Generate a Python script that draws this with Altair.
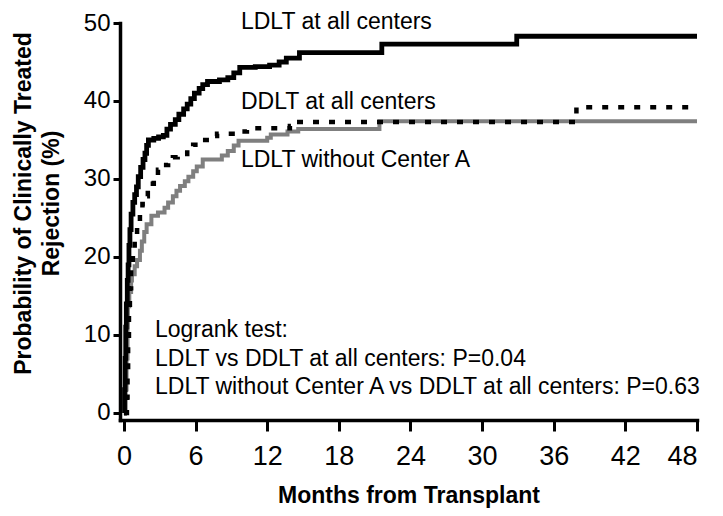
import altair as alt
import pandas as pd

# ---- data (months, cumulative % with clinically treated rejection)
ldlt_all_months = [0, 0.05, 0.1, 0.15, 0.2, 0.28, 0.35, 0.42, 0.5, 0.6, 0.75, 0.9, 1.05, 1.2, 1.4,
                   1.6, 1.76, 1.9, 2.05, 2.5, 2.9, 3.3, 3.6, 3.9, 4.3, 4.6, 5.0, 5.3, 5.6, 5.9,
                   6.3, 6.6, 7.0, 8.0, 8.7, 9.2, 9.7, 11.0, 12.2, 13.0, 13.6, 14.7, 21.6, 32.9, 48]
ldlt_all_pct = [0, 3, 7, 11, 14, 17, 19, 21.5, 23.5, 25.5, 27, 28, 29, 30.3, 31.5,
                32.5, 33.3, 34.3, 35, 35.2, 35.4, 35.6, 36.4, 37, 37.6, 38.3, 39, 39.6, 40.3, 41,
                41.6, 42.1, 42.5, 42.7, 43.0, 43.6, 44.3, 44.4, 44.6, 45.0, 45.5, 46.2, 47.3, 48.3, 48.3]

ddlt_all_months = [0, 0.25, 0.3, 0.35, 0.42, 0.5, 0.6, 0.75, 0.9, 1.1, 1.34, 1.55, 1.76, 2.0, 2.2,
                   2.5, 2.85, 3.3, 3.7, 4.1, 4.5, 5.3, 5.8, 6.4, 7.2, 7.8, 9.1, 10.3, 13.9, 14.0,
                   37.9, 48]
ddlt_all_pct = [0, 2, 5, 9.5, 13, 16, 18.5, 21, 22.8, 24.3, 25.7, 26.8, 27.8, 28.7, 29.4,
                30.3, 31.2, 31.8, 32.4, 32.8, 33.2, 33.8, 34.4, 35.0, 35.5, 35.8, 36.1, 36.5, 36.8, 37.3,
                39.2, 39.2]

ldlt_noA_months = [0, 0.15, 0.22, 0.3, 0.33, 0.45, 0.6, 0.67, 0.9, 1.1, 1.34, 1.5, 1.7, 1.9, 2.3,
                   2.85, 3.4, 3.7, 4.1, 4.4, 4.7, 5.1, 5.4, 5.8, 6.1, 6.6, 8.2, 8.7, 9.2, 9.6,
                   12.0, 12.3, 13.7, 14.6, 21.4, 48]
ldlt_noA_pct = [0, 3, 7, 11, 13.7, 15.5, 17, 17.8, 18.8, 19.6, 20.8, 22, 23.2, 24.2, 25.3,
                25.7, 26.3, 27, 27.8, 28.5, 29.1, 29.7, 30.3, 31, 31.6, 32.5, 33.0, 33.6, 34.3, 34.9,
                35.3, 35.7, 36.1, 36.4, 37.4, 37.4]

series_names = ["LDLT at all centers", "DDLT at all centers", "LDLT without Center A"]
x_ticks = [0, 6, 12, 18, 24, 30, 36, 42, 48]
y_ticks = [0, 10, 20, 30, 40, 50]
logrank_lines = ["Logrank test:",
                 "LDLT vs DDLT at all centers: P=0.04",
                 "LDLT without Center A vs DDLT at all centers: P=0.63"]

rows = []
for name, ms, ps in zip(series_names,
                        [ldlt_all_months, ddlt_all_months, ldlt_noA_months],
                        [ldlt_all_pct, ddlt_all_pct, ldlt_noA_pct]):
    for m, p in zip(ms, ps):
        rows.append({"series": name, "month": m, "pct": p})
df = pd.DataFrame(rows)

FONT = "Liberation Sans"
x_scale = alt.Scale(domain=[-0.33, 48], nice=False, zero=False)
y_scale = alt.Scale(domain=[-0.9, 50], nice=False, zero=False)

x_axis = alt.Axis(values=x_ticks, title="Months from Transplant", grid=False,
                  labelFont=FONT, labelFontSize=27, labelColor="black", labelPadding=12,
                  tickSize=11, tickWidth=3, tickColor="black",
                  domainWidth=3.5, domainColor="black", domainCap="square",
                  titleFont=FONT, titleFontSize=23, titleFontWeight="bold", titleColor="black",
                  titleBaseline="alphabetic", titleY=82)
y_axis = alt.Axis(values=y_ticks, title=["Probability of Clinically Treated", "Rejection (%)"],
                  grid=False, labelFont=FONT, labelFontSize=24, labelColor="black", labelPadding=3,
                  tickSize=7, tickWidth=3, tickColor="black",
                  domainWidth=3.5, domainColor="black", domainCap="square",
                  titleFont=FONT, titleFontSize=23, titleFontWeight="bold", titleColor="black",
                  titleBaseline="alphabetic", titleX=-90, titleY=180, titleLineHeight=28,
                  titleAlign="center")

base = alt.Chart(df)


def curve(name, color, width, dash=None):
    kw = dict(interpolate="step-after", color=color, strokeWidth=width, strokeCap="butt",
              strokeJoin="miter")
    if dash:
        kw["strokeDash"] = dash
    return base.transform_filter(alt.datum.series == name).mark_line(**kw).encode(
        x=alt.X("month:Q", scale=x_scale, axis=x_axis),
        y=alt.Y("pct:Q", scale=y_scale, axis=y_axis),
    )


grey = curve(series_names[2], "#7f7f7f", 4)
dashed = curve(series_names[1], "black", 4.5, [6, 10])
black = curve(series_names[0], "black", 4.8)


def label(txt, xm, yp):
    return alt.Chart().mark_text(align="left", baseline="alphabetic", font=FONT,
                                 fontSize=23, color="black").encode(
        x=alt.datum(xm, scale=x_scale), y=alt.datum(yp, scale=y_scale),
        text=alt.datum(txt))


labels = [
    label(series_names[0], 9.8, 49.2),
    label(series_names[1], 9.8, 39.0),
    label(series_names[2], 9.8, 31.6),
    label(logrank_lines[0], 2.6, 9.7),
    label(logrank_lines[1], 2.6, 6.0),
    label(logrank_lines[2], 2.6, 2.4),
]

chart = alt.layer(grey, dashed, black, *labels).properties(
    width=577, height=397,
    autosize=alt.AutoSizeParams(type="none"),
    padding={"left": 112, "top": 15, "right": 18, "bottom": 88},
).configure_view(stroke=None)

chart.save("out.html", embed_options={"renderer": "svg", "actions": False})
